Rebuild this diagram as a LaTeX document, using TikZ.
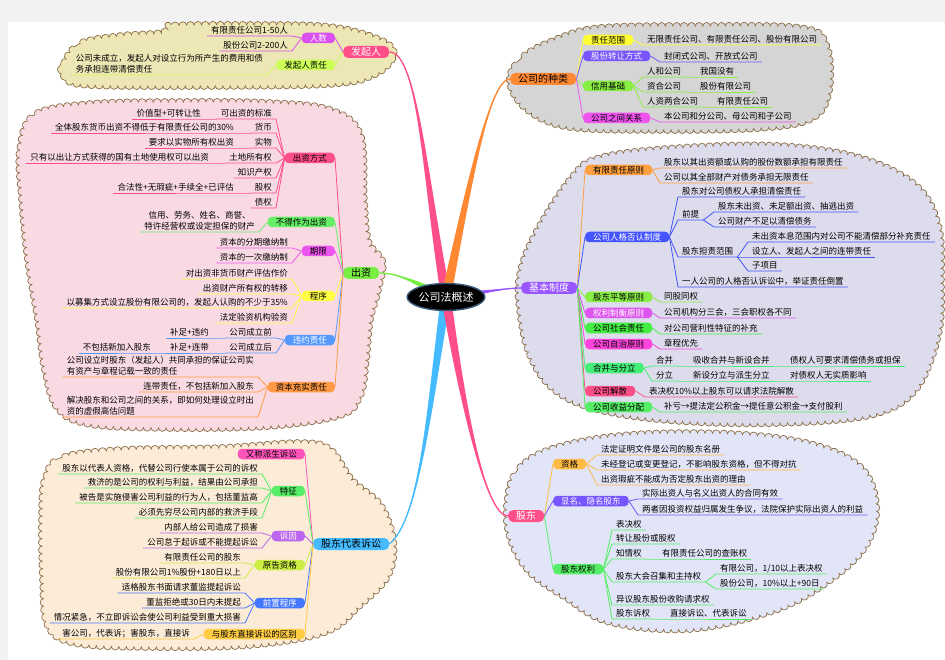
\documentclass[tikz,border=0pt]{standalone}
\usepackage{fontspec}
\setmainfont{Noto Sans CJK SC}
\usepackage{tikz}
\usetikzlibrary{calc,shapes.geometric,decorations.pathmorphing,backgrounds}
\definecolor{bgray}{HTML}{F2F2F2}
\definecolor{cloudline}{HTML}{8C6E46}
\definecolor{khaki}{HTML}{EDE6B5}
\definecolor{blush}{HTML}{F9DAE2}
\definecolor{peach}{HTML}{FCEBD6}
\definecolor{silver}{HTML}{D5D5D5}
\definecolor{lilac}{HTML}{DCDCEC}
\definecolor{mist}{HTML}{E1E5F7}
\definecolor{mmsteel}{HTML}{3A5A7A}
\definecolor{mmrose}{HTML}{FF4F88}
\definecolor{mmorchid}{HTML}{D94FF0}
\definecolor{mmlime}{HTML}{CCFF55}
\definecolor{mmgreen}{HTML}{77EE44}
\definecolor{mmmint}{HTML}{66EE66}
\definecolor{mmmagenta}{HTML}{EE55EE}
\definecolor{mmyellow}{HTML}{FFFF44}
\definecolor{mmsky}{HTML}{5599FF}
\definecolor{mmorange}{HTML}{FF9944}
\definecolor{mmcyan}{HTML}{44BBFF}
\definecolor{mmhot}{HTML}{FF55BB}
\definecolor{mmleaf}{HTML}{55EE66}
\definecolor{mmlawn}{HTML}{44EE44}
\definecolor{mmviolet}{HTML}{BB66EE}
\definecolor{mmolive}{HTML}{CCEE44}
\definecolor{mmblue}{HTML}{4477FF}
\definecolor{mmgold}{HTML}{FFCC44}
\definecolor{mmtang}{HTML}{FF8833}
\definecolor{mmlemon}{HTML}{FFFF33}
\definecolor{mmindigo}{HTML}{7755FF}
\definecolor{mmgrass}{HTML}{88EE44}
\definecolor{mmpurple}{HTML}{9955FF}
\definecolor{mmapricot}{HTML}{FFA040}
\definecolor{mmroyal}{HTML}{4455FF}
\definecolor{mmfuchsia}{HTML}{DD55EE}
\definecolor{mmpink}{HTML}{FF44DD}
\definecolor{mmsea}{HTML}{44EE77}
\definecolor{mmamber}{HTML}{FFBB44}
\newcommand\leaffont{\fontsize{8.5}{11}\selectfont}
\newcommand\subfont{\fontsize{8.5}{10}\selectfont}
\newcommand\branchfont{\fontsize{10}{12}\selectfont}
% tapered main branch: colour, from, control 1, control 2, to, half width
\newcommand\taper[6]{%
  \fill[#1] ($(#2)+(#6)$) .. controls ($(#3)+0.5*(#6)$) and (#4) .. (#5)
    .. controls (#4) and ($(#3)-0.5*(#6)$) .. ($(#2)-(#6)$) -- cycle;
  \draw[#1, line width=1.3pt] (#2) .. controls (#3) and (#4) .. (#5);}
\tikzset{
  topic/.style={ellipse, fill=black, draw=mmsteel, line width=1.4pt,
    text=white, font=\fontsize{11}{13}\selectfont,
    minimum width=76pt, minimum height=27pt, inner sep=0pt},
  branch/.style={rectangle, rounded corners=5pt, fill=#1,
    inner xsep=8pt, inner ysep=0pt, minimum height=12pt, font=\branchfont},
  subtopic/.style={rectangle, rounded corners=4pt, fill=#1,
    inner xsep=8pt, inner ysep=0pt, minimum height=10.5pt, font=\subfont},
  leaf/.style={inner xsep=4pt, inner ysep=1.2pt, font=\leaffont},
  lleaf/.style={leaf, anchor=south east},
  rleaf/.style={leaf, anchor=south west},
  twig/.style={draw=#1, line width=0.8pt},
  bubble/.style={fill=#1, draw=cloudline, line width=0.7pt, decorate,
    decoration={bumps, segment length=15pt, amplitude=3.5pt}},
}

\begin{document}
\begin{tikzpicture}[x=1pt, y=-1pt]
    \useasboundingbox (0,0) rectangle (945,660);

    % central topic
    \node[topic] (topic) at (446,297) {公司法概述};

    % 发起人
    \node[branch=mmrose, text=white, anchor=west] (fqr) at (343,52) {发起人};
    \node[subtopic=mmorchid, text=white, anchor=east] (rs) at (335,38) {人数};
    \node[subtopic=mmlime, anchor=east] (fqzr) at (335,65) {发起人责任};
    \node[lleaf] (rs1) at (292,36) {有限责任公司1-50人};
    \node[lleaf] (rs2) at (292,51) {股份公司2-200人};
    \node[lleaf, align=left] (fqzr1) at (267,75) {公司未成立，发起人对设立行为所产生的费用和债\\务承担连带清偿责任};

    % 出资
    \node[branch=mmgreen, anchor=west] (cz) at (343,273) {出资};
    \node[subtopic=mmrose, anchor=east] (czfs) at (335,158) {出资方式};
    \node[subtopic=mmmint, anchor=east] (bdzw) at (335,222) {不得作为出资};
    \node[subtopic=mmmagenta, anchor=east] (qx) at (335,251) {期限};
    \node[subtopic=mmyellow, anchor=east] (cx) at (335,296) {程序};
    \node[subtopic=mmsky, text=white, anchor=east] (wyzr) at (335,340) {违约责任};
    \node[subtopic=mmorange, anchor=east] (zbcs) at (335,387) {资本充实责任};
    \node[lleaf] (fs1) at (276,119) {可出资的标准};
    \node[lleaf] (fs1a) at (205,119) {价值型+可转让性};
    \node[lleaf] (fs2) at (276,133) {货币};
    \node[lleaf] (fs2a) at (238,133) {全体股东货币出资不得低于有限责任公司的30\%};
    \node[lleaf] (fs3) at (276,148) {实物};
    \node[lleaf] (fs3a) at (238,148) {要求以实物所有权出资};
    \node[lleaf] (fs4) at (276,163) {土地所有权};
    \node[lleaf] (fs4a) at (213,163) {只有以出让方式获得的国有土地使用权可以出资};
    \node[lleaf] (fs5) at (276,178) {知识产权};
    \node[lleaf] (fs6) at (276,193) {股权};
    \node[lleaf] (fs6a) at (238,193) {合法性+无瑕疵+手续全+已评估};
    \node[lleaf] (fs7) at (276,208) {债权};
    \node[lleaf, align=center] (bd1) at (259,232) {信用、劳务、姓名、商誉、\\特许经营权或设定担保的财产};
    \node[lleaf] (qx1) at (292,248) {资本的分期缴纳制};
    \node[lleaf] (qx2) at (292,263) {资本的一次缴纳制};
    \node[lleaf] (cx1) at (292,279) {对出资非货币财产评估作价};
    \node[lleaf] (cx2) at (292,294) {出资财产所有权的转移};
    \node[lleaf] (cx3) at (292,308) {以募集方式设立股份有限公司的，发起人认购的不少于35\%};
    \node[lleaf] (cx4) at (292,323) {法定验资机构验资};
    \node[lleaf] (wy1) at (276,338) {公司成立前};
    \node[lleaf] (wy1a) at (213,338) {补足+违约};
    \node[lleaf] (wy2) at (276,353) {公司成立后};
    \node[lleaf] (wy2a) at (213,353) {补足+连带};
    \node[lleaf] (wy2b) at (155,353) {不包括新加入股东};
    \node[lleaf, align=left] (zb1) at (258,377) {公司设立时股东（发起人）共同承担的保证公司实\\有资产与章程记载一致的责任};
    \node[lleaf] (zb2) at (258,392) {连带责任，不包括新加入股东};
    \node[lleaf, align=left] (zb3) at (258,417) {解决股东和公司之间的关系，即如何处理设立时出\\资的虚假高估问题};

    % 股东代表诉讼
    \node[branch=mmcyan, anchor=west] (gdss) at (313,544) {股东代表诉讼};
    \node[subtopic=mmhot, anchor=east] (ycps) at (305,454) {又称派生诉讼};
    \node[subtopic=mmleaf, anchor=east] (tz) at (305,491) {特征};
    \node[subtopic=mmviolet, text=white, anchor=east] (sy) at (305,536) {诉因};
    \node[subtopic=mmolive, anchor=east] (ygzg) at (305,565) {原告资格};
    \node[subtopic=mmblue, text=white, anchor=east] (qzcx) at (305,603) {前置程序};
    \node[subtopic=mmgold, anchor=east] (qbie) at (305,634) {与股东直接诉讼的区别};
    \node[lleaf] (tz1) at (262,474) {股东以代表人资格，代替公司行使本属于公司的诉权};
    \node[lleaf] (tz2) at (262,488) {救济的是公司的权利与利益，结果由公司承担};
    \node[lleaf] (tz3) at (262,503) {被告是实施侵害公司利益的行为人，包括董监高};
    \node[lleaf] (tz4) at (262,518) {必须先穷尽公司内部的救济手段};
    \node[lleaf] (sy1) at (262,533) {内部人给公司造成了损害};
    \node[lleaf] (sy2) at (262,548) {公司怠于起诉或不能提起诉讼};
    \node[lleaf] (yg1) at (245,563) {有限责任公司的股东};
    \node[lleaf] (yg2) at (245,578) {股份有限公司1\%股份+180日以上};
    \node[lleaf] (qz1) at (245,593) {适格股东书面请求董监提起诉讼};
    \node[lleaf] (qz2) at (245,608) {董监拒绝或30日内未提起};
    \node[lleaf] (qz3) at (245,623) {情况紧急，不立即诉讼会使公司利益受到重大损害};
    \node[lleaf] (qb1) at (194,639) {害公司，代表诉；害股东，直接诉};

    % 公司的种类
    \node[branch=mmtang, anchor=west] (zl) at (510,79) {公司的种类};
    \node[subtopic=mmlemon, anchor=west] (zrfw) at (583,40) {责任范围};
    \node[subtopic=mmindigo, text=white, anchor=west] (gfzr) at (583,56) {股份转让方式};
    \node[subtopic=mmgrass, anchor=west] (xyjc) at (583,86) {信用基础};
    \node[subtopic=mmmagenta, anchor=west] (gsgx) at (583,118) {公司之间关系};
    \node[rleaf] (zr1) at (643,45) {无限责任公司、有限责任公司、股份有限公司};
    \node[rleaf] (gf1) at (660,62) {封闭式公司、开放式公司};
    \node[rleaf] (xy1) at (643,77) {人和公司};
    \node[rleaf] (xy1a) at (696,77) {我国没有};
    \node[rleaf] (xy2) at (643,92) {资合公司};
    \node[rleaf] (xy2a) at (696,92) {股份有限公司};
    \node[rleaf] (xy3) at (643,107) {人资两合公司};
    \node[rleaf] (xy3a) at (713,107) {有限责任公司};
    \node[rleaf] (gx1) at (660,122) {本公司和分公司、母公司和子公司};

    % 基本制度
    \node[branch=mmpurple, text=white, anchor=west] (jb) at (521,288) {基本制度};
    \node[subtopic=mmapricot, anchor=west] (yxzr) at (585,170) {有限责任原则};
    \node[subtopic=mmroyal, text=white, anchor=west] (rgfr) at (585,237) {公司人格否认制度};
    \node[subtopic=mmgrass, anchor=west] (gdpd) at (585,297) {股东平等原则};
    \node[subtopic=mmfuchsia, text=white, anchor=west] (qlzh) at (585,313) {权利制衡原则};
    \node[subtopic=mmlawn, anchor=west] (shzr) at (585,328) {公司社会责任};
    \node[subtopic=mmpink, anchor=west] (zzyz) at (585,344) {公司自治原则};
    \node[subtopic=mmsea, anchor=west] (hbfl) at (585,368) {合并与分立};
    \node[subtopic=mmrose, anchor=west] (gsjs) at (585,391) {公司解散};
    \node[subtopic=mmleaf, anchor=west] (sypf) at (585,407) {公司收益分配};
    \node[rleaf] (yx1) at (660,168) {股东以其出资额或认购的股份数额承担有限责任};
    \node[rleaf] (yx2) at (660,183) {公司以其全部财产对债务承担无限责任};
    \node[rleaf] (rg1) at (678,197) {股东对公司债权人承担清偿责任};
    \node[rleaf] (rg2) at (678,220) {前提};
    \node[rleaf] (rg2a) at (714,212) {股东未出资、未足额出资、抽逃出资};
    \node[rleaf] (rg2b) at (714,227) {公司财产不足以清偿债务};
    \node[rleaf] (rg3) at (678,257) {股东担责范围};
    \node[rleaf] (rg3a) at (748,242) {未出资本息范围内对公司不能清偿部分补充责任};
    \node[rleaf] (rg3b) at (748,257) {设立人、发起人之间的连带责任};
    \node[rleaf] (rg3c) at (748,271) {子项目};
    \node[rleaf] (rg4) at (678,287) {一人公司的人格否认诉讼中，举证责任倒置};
    \node[rleaf] (pd1) at (660,302) {同股同权};
    \node[rleaf] (zh1) at (660,318) {公司机构分三会，三会职权各不同};
    \node[rleaf] (sh1) at (660,334) {对公司营利性特征的补充};
    \node[rleaf] (zz1) at (660,349) {章程优先};
    \node[rleaf] (hb1) at (652,366) {合并};
    \node[rleaf] (hb1a) at (689,366) {吸收合并与新设合并};
    \node[rleaf] (hb1b) at (786,366) {债权人可要求清偿债务或担保};
    \node[rleaf] (hb2) at (652,381) {分立};
    \node[rleaf] (hb2a) at (689,381) {新设分立与派生分立};
    \node[rleaf] (hb2b) at (786,381) {对债权人无实质影响};
    \node[rleaf] (js1) at (645,397) {表决权10\%以上股东可以请求法院解散};
    \node[rleaf] (sp1) at (660,412) {补亏→提法定公积金→提任意公积金→支付股利};

    % 股东
    \node[branch=mmrose, text=white, anchor=west] (gd) at (508,516) {股东};
    \node[subtopic=mmamber, anchor=west] (zg) at (553,464) {资格};
    \node[subtopic=mmindigo, text=white, anchor=west] (xmym) at (553,501) {显名、隐名股东};
    \node[subtopic=mmleaf, anchor=west] (gdql) at (553,569) {股东权利};
    \node[rleaf] (zg1) at (597,455) {法定证明文件是公司的股东名册};
    \node[rleaf] (zg2) at (597,470) {未经登记或变更登记，不影响股东资格，但不得对抗};
    \node[rleaf] (zg3) at (597,485) {出资瑕疵不能成为否定股东出资的理由};
    \node[rleaf] (xm1) at (638,499) {实际出资人与名义出资人的合同有效};
    \node[rleaf] (xm2) at (638,515) {两者因投资权益归属发生争议，法院保护实际出资人的利益};
    \node[rleaf] (ql1) at (612,530) {表决权};
    \node[rleaf] (ql2) at (612,544) {转让股份或股权};
    \node[rleaf] (ql3) at (612,559) {知情权};
    \node[rleaf] (ql3a) at (658,559) {有限责任公司的查账权};
    \node[rleaf] (ql4) at (612,582) {股东大会召集和主持权};
    \node[rleaf] (ql4a) at (716,574) {有限公司，1/10以上表决权};
    \node[rleaf] (ql4b) at (716,589) {股份公司，10\%以上+90日};
    \node[rleaf] (ql5) at (612,605) {异议股东股份收购请求权};
    \node[rleaf] (ql6) at (612,619) {股东诉权};
    \node[rleaf] (ql6a) at (666,619) {直接诉讼、代表诉讼};

    % branch to subtopic links
    \foreach \n/\c in {rs/mmorchid, fqzr/mmlime}
      \draw[twig=\c] (fqr.west) -- (\n.east);
    \foreach \n/\c in {czfs/mmrose, bdzw/mmmint, qx/mmmagenta, cx/mmyellow, wyzr/mmsky, zbcs/mmorange}
      \draw[twig=\c] (cz.west) -- (\n.east);
    \foreach \n/\c in {ycps/mmhot, tz/mmleaf, sy/mmviolet, ygzg/mmolive, qzcx/mmblue, qbie/mmgold}
      \draw[twig=\c] (gdss.west) -- (\n.east);
    \foreach \n/\c in {zrfw/mmlemon, gfzr/mmindigo, xyjc/mmgrass, gsgx/mmmagenta}
      \draw[twig=\c] (zl.east) -- (\n.west);
    \foreach \n/\c in {yxzr/mmapricot, rgfr/mmroyal, gdpd/mmgrass, qlzh/mmfuchsia, shzr/mmlawn, zzyz/mmpink, hbfl/mmsea, gsjs/mmrose, sypf/mmleaf}
      \draw[twig=\c] (jb.east) -- (\n.west);
    \foreach \n/\c in {zg/mmamber, xmym/mmindigo, gdql/mmleaf}
      \draw[twig=\c] (gd.east) -- (\n.west);

    % left leaves
    \foreach \p/\n/\c in {rs/rs1/mmorchid, rs/rs2/mmorchid, fqzr/fqzr1/mmlime,
        czfs/fs1/mmrose, czfs/fs2/mmrose, czfs/fs3/mmrose, czfs/fs4/mmrose,
        czfs/fs5/mmrose, czfs/fs6/mmrose, czfs/fs7/mmrose, bdzw/bd1/mmmint,
        qx/qx1/mmmagenta, qx/qx2/mmmagenta, cx/cx1/mmyellow, cx/cx2/mmyellow,
        cx/cx3/mmyellow, cx/cx4/mmyellow, wyzr/wy1/mmsky, wyzr/wy2/mmsky,
        zbcs/zb1/mmorange, zbcs/zb2/mmorange, zbcs/zb3/mmorange,
        tz/tz1/mmleaf, tz/tz2/mmleaf, tz/tz3/mmleaf, tz/tz4/mmleaf,
        sy/sy1/mmviolet, sy/sy2/mmviolet, ygzg/yg1/mmolive, ygzg/yg2/mmolive,
        qzcx/qz1/mmblue, qzcx/qz2/mmblue, qzcx/qz3/mmblue, qbie/qb1/mmgold}
      \draw[twig=\c] (\p.west) -- (\n.south east) -- (\n.south west);
    \foreach \p/\n/\c in {fs1/fs1a/mmrose, fs2/fs2a/mmrose, fs3/fs3a/mmrose,
        fs4/fs4a/mmrose, fs6/fs6a/mmrose, wy1/wy1a/mmsky, wy2/wy2a/mmsky, wy2a/wy2b/mmsky}
      \draw[twig=\c] (\p.south west) -- (\n.south east) -- (\n.south west);

    % right leaves
    \foreach \p/\n/\c in {zrfw/zr1/mmlemon, gfzr/gf1/mmindigo, xyjc/xy1/mmgrass,
        xyjc/xy2/mmgrass, xyjc/xy3/mmgrass, gsgx/gx1/mmmagenta,
        yxzr/yx1/mmapricot, yxzr/yx2/mmapricot, rgfr/rg1/mmroyal, rgfr/rg2/mmroyal,
        rgfr/rg3/mmroyal, rgfr/rg4/mmroyal, gdpd/pd1/mmgrass, qlzh/zh1/mmfuchsia,
        shzr/sh1/mmlawn, zzyz/zz1/mmpink, hbfl/hb1/mmsea, hbfl/hb2/mmsea,
        gsjs/js1/mmrose, sypf/sp1/mmleaf, zg/zg1/mmamber, zg/zg2/mmamber,
        zg/zg3/mmamber, xmym/xm1/mmindigo, xmym/xm2/mmindigo,
        gdql/ql1/mmleaf, gdql/ql2/mmleaf, gdql/ql3/mmleaf, gdql/ql4/mmleaf,
        gdql/ql5/mmleaf, gdql/ql6/mmleaf}
      \draw[twig=\c] (\p.east) -- (\n.south west) -- (\n.south east);
    \foreach \p/\n/\c in {xy1/xy1a/mmgrass, xy2/xy2a/mmgrass, xy3/xy3a/mmgrass,
        rg2/rg2a/mmroyal, rg2/rg2b/mmroyal, rg3/rg3a/mmroyal, rg3/rg3b/mmroyal,
        rg3/rg3c/mmroyal, hb1/hb1a/mmsea, hb1a/hb1b/mmsea, hb2/hb2a/mmsea,
        hb2a/hb2b/mmsea, ql3/ql3a/mmleaf, ql4/ql4a/mmleaf, ql4/ql4b/mmleaf,
        ql6/ql6a/mmleaf}
      \draw[twig=\c] (\p.south east) -- (\n.south west) -- (\n.south east);

    % page, clouds and main branches behind everything
    \begin{scope}[on background layer]
      \fill[bgray] (0,0) rectangle (945,660);
      \fill[white] (8,22) rectangle (945,660);
      \path[bubble=khaki] plot[smooth cycle, tension=0.6] coordinates {
        (63,66) (80,44) (120,36) (160,33) (170,26) (250,25) (330,27) (380,40)
        (393,55) (375,74) (330,84) (200,86) (90,85) (66,78)};
      \path[bubble=blush] plot[smooth cycle, tension=0.6] coordinates {
        (20,150) (35,115) (90,104) (180,102) (270,103) (330,110) (360,135)
        (364,200) (368,240) (382,262) (378,290) (370,320) (366,360) (360,395)
        (340,415) (270,426) (170,428) (90,424) (58,408) (45,370) (38,320)
        (28,260) (22,200)};
      \path[bubble=peach] plot[smooth cycle, tension=0.6] coordinates {
        (45,480) (62,458) (120,450) (220,448) (300,443) (330,450) (352,480)
        (380,505) (393,540) (388,575) (360,605) (325,632) (250,645) (150,647)
        (75,643) (48,625) (43,580) (42,520)};
      \path[bubble=silver] plot[smooth cycle, tension=0.6] coordinates {
        (510,82) (522,58) (555,40) (600,28) (700,26) (800,28) (826,45)
        (829,90) (812,118) (760,128) (660,130) (570,127) (528,110)};
      \path[bubble=lilac] plot[smooth cycle, tension=0.6] coordinates {
        (520,275) (535,235) (570,180) (600,158) (680,148) (780,146) (860,158)
        (915,185) (938,225) (941,280) (938,335) (915,390) (870,415) (780,423)
        (680,421) (600,410) (555,390) (530,355) (520,310)};
      \path[bubble=mist] plot[smooth cycle, tension=0.6] coordinates {
        (507,505) (518,470) (555,448) (630,435) (730,434) (810,444) (860,467)
        (876,505) (866,545) (830,580) (775,610) (690,629) (610,622) (565,597)
        (530,572) (511,540)};
      \taper{mmrose}{topic.center}{425,180}{418,52}{fqr.east}{5,0}
      \taper{mmtang}{topic.center}{470,180}{490,79}{zl.west}{5,0}
      \taper{mmgreen}{topic.center}{420,285}{400,273}{cz.east}{0,5}
      \taper{mmpurple}{topic.center}{480,293}{505,288}{jb.west}{0,4}
      \taper{mmcyan}{topic.center}{430,400}{420,520}{gdss.east}{5,0}
      \taper{mmrose}{topic.center}{462,400}{485,516}{gd.west}{5,0}
    \end{scope}
\end{tikzpicture}
\end{document}
